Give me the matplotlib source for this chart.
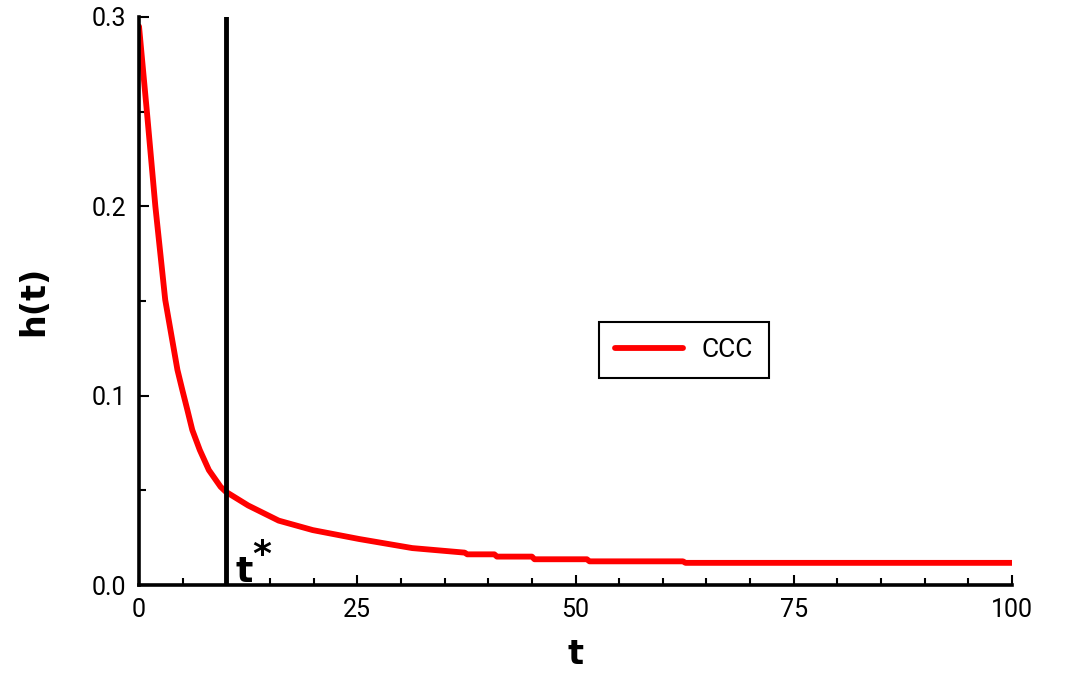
import matplotlib.pyplot as plt
from matplotlib.ticker import MultipleLocator

t_vals = [0, 0.92, 1.87, 3.0, 4.4, 4.96, 5.54, 6.1, 6.96, 8.0, 9.34, 9.93,
          12.5, 16.0, 19.9, 25.2, 31.3, 37.3, 37.6, 40.7, 41.0, 45.0, 45.3,
          51.3, 51.6, 62.3, 62.6, 100]
h_vals = [0.295, 0.249, 0.200, 0.1506, 0.1136, 0.103, 0.0924, 0.0819, 0.0713,
          0.0607, 0.0519, 0.0493, 0.042, 0.034, 0.029, 0.0243, 0.0195, 0.0171,
          0.0162, 0.0162, 0.0150, 0.0150, 0.0136, 0.0136, 0.0125, 0.0125,
          0.0117, 0.0117]
t_star = 10
series_name = 'CCC'

label_font = ['Roboto', 'DejaVu Sans']

fig = plt.figure(figsize=(10.67, 6.76), dpi=100)
ax = fig.add_axes([0.1303, 0.1346, 0.8182, 0.8403])

ax.plot(t_vals, h_vals, color='#ff0000', lw=4.2, solid_capstyle='round',
        solid_joinstyle='round', label=series_name)
ax.plot([t_star, t_star], [0, 0.3], color='black', lw=3.5)

# t* marker next to the vertical line
ax.text(t_star + 1.0, -0.002, 't', fontsize=26, fontweight='bold',
        ha='left', va='bottom')
ax.text(t_star + 4.1, 0.0158, '*', fontsize=26, fontweight='bold',
        ha='center', va='center')

ax.set_xlim(0, 100)
ax.set_ylim(0, 0.3)
ax.xaxis.set_major_locator(MultipleLocator(25))
ax.xaxis.set_minor_locator(MultipleLocator(5))
ax.yaxis.set_major_locator(MultipleLocator(0.1))
ax.yaxis.set_minor_locator(MultipleLocator(0.05))
ax.set_yticks([0, 0.1, 0.2, 0.3], ['0.0', '0.1', '0.2', '0.3'])

for side in ['top', 'right']:
    ax.spines[side].set_visible(False)
for side in ['left', 'bottom']:
    ax.spines[side].set_linewidth(2.6)

ax.tick_params(which='major', direction='in', length=7, width=1.5,
               labelsize=18, pad=9, labelcolor='black')
ax.tick_params(which='minor', direction='in', length=5, width=1.5)
for lab in ax.get_xticklabels() + ax.get_yticklabels():
    lab.set_fontfamily(label_font)

ax.set_xlabel('t', fontsize=24, fontweight='bold', labelpad=12)
ax.set_ylabel('h(t)', fontsize=24, fontweight='bold', labelpad=30)

leg = ax.legend(loc='center', bbox_to_anchor=(0.624, 0.414),
                frameon=True, fancybox=False, handlelength=2.6,
                borderpad=0.6, handletextpad=0.7,
                prop={'family': label_font, 'size': 19})
leg.get_frame().set_edgecolor('black')
leg.get_frame().set_linewidth(1.5)
leg.get_frame().set_alpha(1)

fig.savefig('out.png', dpi=100)
